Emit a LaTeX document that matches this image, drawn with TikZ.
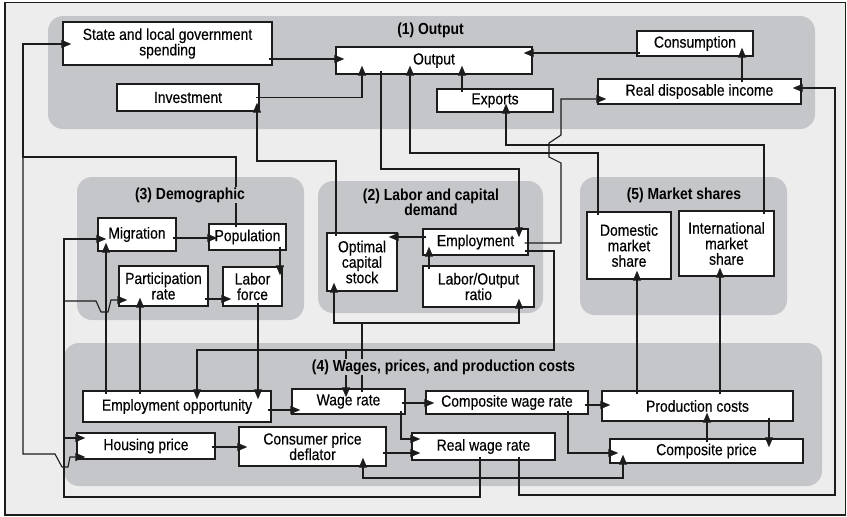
\documentclass[tikz,border=0pt]{standalone}
\usepackage{fontspec}
\setmainfont{Liberation Sans}[FakeStretch=0.87, UprightFeatures={FakeBold=0.35}]
\usetikzlibrary{arrows.meta}
\definecolor{panel}{RGB}{237,237,237}
\definecolor{group}{RGB}{197,198,201}
\definecolor{ink}{RGB}{28,28,28}

\begin{document}
\begin{tikzpicture}[x=1pt,y=-1pt,
  box/.style={draw=ink, line width=1.35pt, fill=white, align=center, inner sep=0pt,
              font=\fontsize{16}{15.5}\selectfont},
  grp/.style={fill=group, rounded corners=15pt},
  ttl/.style={font=\bfseries\fontsize{16}{15.5}\selectfont, fill=group, inner sep=1pt, align=center},
  link/.style={draw=ink, line width=1.1pt},
  tip/.tip={Triangle[length=10pt,width=8pt]},
  arr/.style={link, -tip, shorten >=-9pt, shorten <=-4pt},
  brn/.style={link, -tip, shorten >=-9pt},
]
\useasboundingbox (0,0) rectangle (847,517);
\fill[white] (0,0) rectangle (847,517);
\draw[fill=panel, draw=ink, line width=1.4pt] (5,2.5) rectangle (845.5,515);

% sector panels
\fill[grp] (48,16) rectangle (815,129);
\fill[grp] (77,177) rectangle (304,320);
\fill[grp] (318,181) rectangle (543,313);
\fill[grp] (580,177) rectangle (787,315);
\fill[grp] (64,343) rectangle (822,486);

% (1) Output
\node[box, minimum width=209pt, minimum height=43pt] (state) at (167.5,43.5) {State and local government\\spending};
\node[box, minimum width=196pt, minimum height=27pt] (out) at (434,60.5) {Output};
\node[box, minimum width=142pt, minimum height=27pt] (inv) at (188,97.5) {Investment};
\node[box, minimum width=116pt, minimum height=25pt] (cons) at (695,43.5) {Consumption};
\node[box, minimum width=116pt, minimum height=23pt] (exp) at (495,100.5) {Exports};
\node[box, minimum width=203pt, minimum height=25pt] (rdi) at (699.5,91.5) {Real disposable income};

% (3) Demographic
\node[box, minimum width=78pt, minimum height=33pt] (mig) at (137,234.5) {Migration};
\node[box, minimum width=77pt, minimum height=26pt] (pop) at (247.5,237) {Population};
\node[box, minimum width=89pt, minimum height=40pt] (part) at (163.5,286) {Participation\\rate};
\node[box, minimum width=59pt, minimum height=39pt] (lf) at (252.5,286.5) {Labor\\force};

% (2) Labor and capital demand
\node[box, minimum width=70pt, minimum height=58pt] (opt) at (362,262) {Optimal\\capital\\stock};
\node[box, minimum width=105pt, minimum height=26pt] (emp) at (475.5,242) {Employment};
\node[box, minimum width=111pt, minimum height=41pt] (lor) at (478.5,286.5) {Labor/Output\\ratio};

% (5) Market shares
\node[box, minimum width=84pt, minimum height=67pt] (dom) at (629,245.5) {Domestic\\market\\share};
\node[box, minimum width=95pt, minimum height=65pt] (intl) at (726.5,243.5) {International\\market\\share};

% (4) Wages, prices, and production costs
\node[box, minimum width=188pt, minimum height=31pt] (eo) at (177,406.5) {Employment opportunity};
\node[box, minimum width=113pt, minimum height=25pt] (wr) at (348.5,401.5) {Wage rate};
\node[box, minimum width=138pt, minimum height=26pt] (house) at (146,446) {Housing price};
\node[box, minimum width=147pt, minimum height=39pt] (cpd) at (312.5,446.5) {Consumer price\\deflator};
\node[box, minimum width=162pt, minimum height=23pt] (cwr) at (507,402.5) {Composite wage rate};
\node[box, minimum width=143pt, minimum height=27pt] (rwr) at (483.5,446.5) {Real wage rate};
\node[box, minimum width=191pt, minimum height=30pt] (pc) at (697.5,406) {Production costs};
\node[box, minimum width=193pt, minimum height=24pt] (cp) at (706.5,451) {Composite price};

% junctions on shared lines
\coordinate (popsplit) at (23,157);
\coordinate (jhouse) at (64,438);
\coordinate (jpart) at (64,301);
\coordinate (jwage) at (346,350);
\coordinate (jcap) at (362,323);

% links inside the output block
\draw[arr] (state.east |- 0,59) -- (out.west |- 0,59);
\draw[arr] (inv.east) -| (out.south -| 362,0);
\draw[arr] (cons.west |- 0,53) -- (out.east |- 0,53);
\draw[arr] (rdi.north -| 742,0) -- (cons.south -| 742,0);
\draw[arr] (exp.north -| 462,0) -- (out.south -| 462,0);

% links between blocks
\draw[arr] (out.south -| 381,0) |- (519,169) -- (emp.north -| 519,0);
\draw[arr] (dom.north -| 598,0) |- (410,153) -- (out.south -| 410,0);
\draw[arr] (intl.north -| 764,0) |- (506,145) -- (exp.south -| 506,0);
\draw[arr] (emp.east |- 0,243) -| (561,163) -- (549,157) -- (549,143) -- (561,135) |- (rdi.west |- 0,99);
\draw[arr] (opt.north -| 336,0) |- (257,161) -- (inv.south -| 257,0);
\draw[arr] (pop.north -| 236,0) |- (popsplit) |- (state.west |- 0,44);
\draw[brn] (popsplit) -- (23,454) -- (55,454) -- (62,467) -- (68,467) -- (70,457) -- (house.west |- 0,457);
\draw[arr] (rwr.south -| 480,0) |- (64,497) |- (mig.west |- 0,239);
\draw[brn] (jhouse) -- (house.west |- 0,438);
\draw[brn] (jpart) -- (96,301) -- (101,312) -- (108,312) -- (111,300) -- (part.west |- 0,300);
\draw[arr] (rwr.south -| 519,0) |- (835,495) |- (rdi.east |- 0,88);
\draw[arr] (emp.east |- 0,251) -| (554,350) -| (eo.north -| 197,0);
\draw[brn] (jwage) -- (wr.north -| 346,0);
\draw[link, shorten <=-4pt] (wr.north -| 362,0) -- (jcap);
\draw[brn] (jcap) -| (opt.south -| 334,0);
\draw[brn] (jcap) -| (lor.south -| 519,0);

% labor and capital demand
\draw[arr] (lor.north -| 429,0) -- (emp.south -| 429,0);
\draw[arr] (emp.west |- 0,237) -- (opt.east |- 0,237);

% demographic
\draw[arr] (mig.east |- 0,238) -- (pop.west |- 0,238);
\draw[arr] (part.east |- 0,299) -- (lf.west |- 0,299);
\draw[arr] (pop.south -| 280,0) -- (lf.north -| 280,0);
\draw[arr] (lf.south -| 258,0) -- (eo.north -| 258,0);
\draw[arr] (eo.north -| 106,0) -- (mig.south -| 106,0);
\draw[arr] (eo.north -| 140,0) -- (part.south -| 140,0);

% wages, prices, and production costs
\draw[arr] (eo.east |- 0,410) -- (wr.west |- 0,410);
\draw[arr] (wr.east |- 0,403) -- (cwr.west |- 0,403);
\draw[arr] (wr.south -| 401,0) |- (rwr.west |- 0,439);
\draw[arr] (cpd.east |- 0,453) -- (rwr.west |- 0,453);
\draw[arr] (house.east |- 0,447) -- (cpd.west |- 0,447);
\draw[arr] (cwr.east |- 0,405) -- (pc.west |- 0,405);
\draw[arr] (cwr.south -| 568,0) |- (cp.west |- 0,453);
\draw[arr] (cp.north -| 707,0) -- (pc.south -| 707,0);
\draw[arr] (pc.south -| 769,0) -- (cp.north -| 769,0);
\draw[arr] (pc.north -| 637,0) -- (dom.south -| 637,0);
\draw[arr] (pc.north -| 720,0) -- (intl.south -| 720,0);
\draw[link, tip-tip, shorten >=-9pt, shorten <=-9pt] (cpd.south -| 363,0) |- (623,478) -- (cp.south -| 623,0);

% panel titles
\node[ttl] (t1) at (430.5,30) {(1) Output};
\node[ttl] (t3) at (190,195) {(3) Demographic};
\node[ttl] (t2) at (431,202.5) {(2) Labor and capital\\demand};
\node[ttl] (t5) at (684,195) {(5) Market shares};
\node[ttl] (t4) at (443.5,367) {(4) Wages, prices, and production costs};
\end{tikzpicture}
\end{document}
